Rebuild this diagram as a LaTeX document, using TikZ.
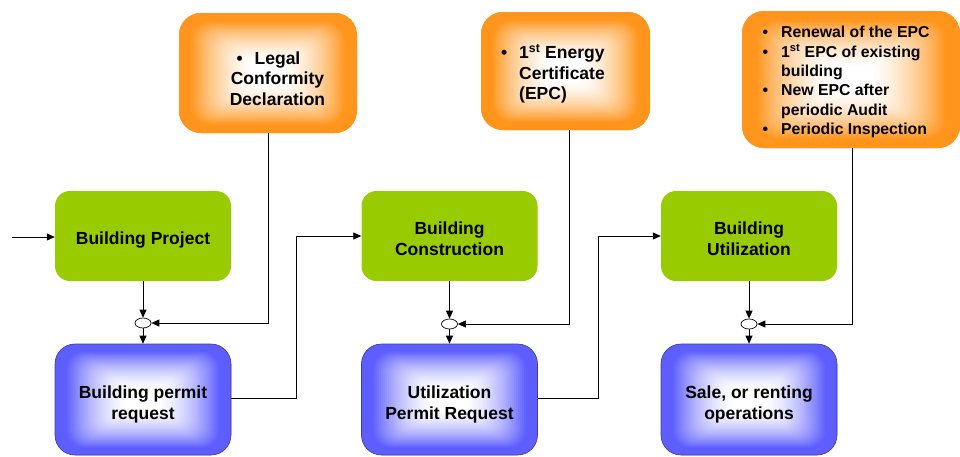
\documentclass[tikz,border=0pt]{standalone}
\usepackage{fontspec}
\setmainfont{Liberation Sans}
\usetikzlibrary{arrows.meta,shapes.geometric,calc}
\definecolor{myorange}{HTML}{FF951C}
\definecolor{mygreen}{HTML}{99CC00}
\definecolor{myblue}{HTML}{5E5EFF}
\definecolor{myblueline}{HTML}{3C3CA0}
\newcommand{\gradfill}[2]{%
  \foreach \ii in {0,...,44} {%
    \pgfmathsetmacro{\myS}{1-\ii/45}%
    \pgfmathsetmacro{\myT}{min(1,max(0,(\myS-0.2)/0.68))}%
    \pgfmathsetmacro{\myC}{100*\myT*(0.4+0.6*\myT)}%
    \fill[#1!\myC!white, rounded corners=\myS*#2]
      ($(path picture bounding box.center)!\myS!(path picture bounding box.south west)$)
      rectangle
      ($(path picture bounding box.center)!\myS!(path picture bounding box.north east)$);
  }%
}
\tikzset{
  obox/.style={rounded corners=22pt, fill=myorange, inner sep=0pt, draw=none,
    path picture={\gradfill{myorange}{22pt}}},
  gbox/.style={rounded corners=15pt, fill=mygreen, inner sep=0pt, minimum width=176pt, minimum height=90pt},
  bbox/.style={rounded corners=20pt, fill=myblue, draw=myblueline, line width=0.6pt,
    inner sep=0pt, minimum width=176pt, minimum height=111pt,
    path picture={\gradfill{myblue}{20pt}}},
  btxt/.style={inner sep=0pt, align=center, font=\bfseries\fontsize{17.5}{21}\selectfont},
  otxt/.style={inner sep=0pt, font=\bfseries\fontsize{17.5}{20.5}\selectfont},
  otxts/.style={inner sep=0pt, font=\bfseries\fontsize{15.8}{19.3}\selectfont, align=left},
  junc/.style={ellipse, draw, fill=white, line width=0.7pt, minimum width=16pt, minimum height=10pt, inner sep=0pt},
  conn/.style={line width=0.8pt},
  arr/.style={conn, -{Triangle[length=8pt,width=7pt]}},
}
\begin{document}
\begin{tikzpicture}[x=1pt,y=-1pt]
\useasboundingbox (0,0) rectangle (960,456);
% orange boxes
\node[obox, minimum width=178pt, minimum height=120pt] (o1) at (268,73) {};
\node[obox, minimum width=169pt, minimum height=118pt] (o2) at (565.5,71) {};
\node[obox, minimum width=218pt, minimum height=137pt] (o3) at (851,79.5) {};
\node[otxt, align=center] (o1t) at (277.5,78.5) {\llap{\textbullet\hspace{12pt}}Legal\\Conformity\\Declaration};
\node[otxt, align=left, anchor=west] (o2t) at (519,74) {\llap{\textbullet\hspace{12pt}}1\textsuperscript{st} Energy\\Certificate\\(EPC)};
\node[otxts, anchor=west] (o3t) at (781,82) {\llap{\textbullet\hspace{13pt}}Renewal of the EPC\\\llap{\textbullet\hspace{13pt}}1\textsuperscript{st} EPC of existing\\building\\\llap{\textbullet\hspace{13pt}}New EPC after\\periodic Audit\\\llap{\textbullet\hspace{13pt}}Periodic Inspection};
% green boxes
\node[gbox] (g1) at (143,236) {};
\node[gbox] (g2) at (449.5,236) {};
\node[gbox] (g3) at (749,236) {};
\node[btxt] (g1t) at (143,240) {Building Project};
\node[btxt] (g2t) at (449.5,239) {Building\\Construction};
\node[btxt] (g3t) at (749,239) {Building\\Utilization};
% blue boxes
\node[bbox] (b1) at (143,399.5) {};
\node[bbox] (b2) at (449.5,399.5) {};
\node[bbox] (b3) at (749,399.5) {};
\node[btxt] (b1t) at (143,404.5) {Building permit\\request};
\node[btxt] (b2t) at (449.5,404.5) {Utilization\\Permit Request};
\node[btxt] (b3t) at (749,404.5) {Sale, or renting\\operations};
% junctions
\node[junc] (e1) at (143,323) {};
\node[junc] (e2) at (449.5,324) {};
\node[junc] (e3) at (749,324) {};
% connectors
\coordinate (start) at (12,237);
\draw[arr] (start) -- (start -| g1.west);
\draw[arr] (g1.south) -- (e1.north);
\draw[arr] (e1.south) -- (b1.north);
\draw[arr] (g2.south) -- (e2.north);
\draw[arr] (e2.south) -- (b2.north);
\draw[arr] (g3.south) -- (e3.north);
\draw[arr] (e3.south) -- (b3.north);
\draw[arr] (o1.south) |- (e1.east);
\draw[arr] ([xshift=3.5pt]o2.south) |- (e2.east);
\draw[arr] ([xshift=1pt]o3.south) |- (e3.east);
\draw[arr] ([yshift=1.5pt]b1.east) -- ++(65,0) |- (g2.west);
\draw[arr] ([yshift=1.5pt]b2.east) -- ++(61,0) |- (g3.west);
\end{tikzpicture}
\end{document}
